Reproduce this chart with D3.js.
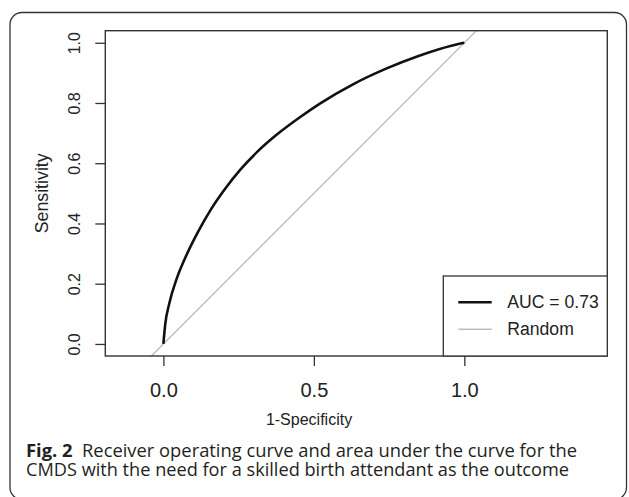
<!DOCTYPE html>
<html><head><meta charset="utf-8">
<script src="https://cdn.jsdelivr.net/npm/d3@7"></script>
<style>
html,body{margin:0;padding:0;background:#fff;}
svg{display:block;}
</style></head>
<body>
<svg id="chart" width="629" height="497"></svg>
<script>
// ---- data ----
const fpr = [0, 0.006, 0.02, 0.044, 0.078, 0.116, 0.155, 0.199, 0.255, 0.31, 0.377, 0.45, 0.52, 0.63, 0.74, 0.85, 0.96, 1];
const tpr = [0, 0.064, 0.136, 0.216, 0.298, 0.374, 0.442, 0.507, 0.578, 0.636, 0.695, 0.750, 0.798, 0.862, 0.914, 0.957, 0.991, 1];
const randomLine = [-0.2, 1.2];
const xTicks = [0, 0.5, 1];
const yTicks = [0, 0.2, 0.4, 0.6, 0.8, 1];
const xTickLabels = ["0.0", "0.5", "1.0"];
const yTickLabels = ["0.0", "0.2", "0.4", "0.6", "0.8", "1.0"];
const legendLabels = ["AUC = 0.73", "Random"];
const xTitle = "1-Specificity";
const yTitle = "Sensitivity";
const captionBold = "Fig. 2";
const captionLines = ["Receiver operating curve and area under the curve for the",
                      "CMDS with the need for a skilled birth attendant as the outcome"];

// ---- layout ----
const svg = d3.select("#chart");
const box = {l: 105.3, r: 607.3, t: 30.7, b: 356};
const x = d3.scaleLinear().domain([-0.193, 1.475]).range([box.l, box.r]);
const y = d3.scaleLinear().domain([-0.04, 1.04]).range([box.b, box.t]);
const axisFont = "'Liberation Sans', Arial, Helvetica, sans-serif";

// outer frame
svg.append("rect").attr("x", 10).attr("y", 12.5).attr("width", 616.5).attr("height", 487)
  .attr("rx", 12).attr("ry", 12).attr("fill", "none").attr("stroke", "#333").attr("stroke-width", 1.3);

// clip
svg.append("defs").append("clipPath").attr("id", "clip")
  .append("rect").attr("x", box.l).attr("y", box.t).attr("width", box.r - box.l).attr("height", box.b - box.t);

// random line
svg.append("path")
  .datum(randomLine)
  .attr("clip-path", "url(#clip)")
  .attr("fill", "none").attr("stroke", "#bdbdbd").attr("stroke-width", 1.4)
  .attr("d", d3.line().x(d => x(d)).y(d => y(d)));

// ROC curve
const rocData = fpr.map((f, i) => ({f, t: tpr[i]}));
svg.append("path")
  .datum(rocData)
  .attr("fill", "none").attr("stroke", "#111").attr("stroke-width", 2.6)
  .attr("d", d3.line().x(d => x(d.f)).y(d => y(d.t)).curve(d3.curveMonotoneX));

// box
svg.append("rect").attr("x", box.l).attr("y", box.t).attr("width", box.r - box.l).attr("height", box.b - box.t)
  .attr("fill", "none").attr("stroke", "#333").attr("stroke-width", 1.4);

// x axis
const gx = svg.append("g").attr("transform", `translate(0,${box.b})`)
  .call(d3.axisBottom(x).tickValues(xTicks).tickSize(10).tickFormat((d, i) => xTickLabels[i]));
gx.select(".domain").remove();
gx.selectAll(".tick line").attr("stroke", "#333").attr("stroke-width", 1.3);
gx.selectAll(".tick text").attr("font-family", axisFont).attr("font-size", 20).attr("fill", "#222")
  .attr("y", 40.5).attr("dy", null);

// y axis
const gy = svg.append("g").attr("transform", `translate(${box.l},0)`)
  .call(d3.axisLeft(y).tickValues(yTicks).tickSize(10).tickFormat((d, i) => yTickLabels[i]));
gy.select(".domain").remove();
gy.selectAll(".tick line").attr("stroke", "#333").attr("stroke-width", 1.3);
gy.selectAll(".tick text").attr("font-family", axisFont).attr("font-size", 16).attr("fill", "#222")
  .attr("x", null).attr("dy", null).attr("text-anchor", "middle")
  .attr("transform", "translate(-25.5,0) rotate(-90)");

// axis titles
svg.append("text").attr("x", 309).attr("y", 425).attr("text-anchor", "middle")
  .attr("font-family", axisFont).attr("font-size", 16).attr("fill", "#222").text(xTitle);
svg.append("text").attr("transform", `translate(47.5,${(box.t + box.b) / 2}) rotate(-90)`)
  .attr("text-anchor", "middle")
  .attr("font-family", axisFont).attr("font-size", 17.8).attr("fill", "#222").text(yTitle);

// legend
const leg = {l: 443.3, t: 276};
svg.append("rect").attr("x", leg.l).attr("y", leg.t).attr("width", box.r - leg.l).attr("height", box.b - leg.t)
  .attr("fill", "#fff").attr("stroke", "#333").attr("stroke-width", 1.3);
const legColors = ["#111", "#bdbdbd"];
const legWidths = [2.6, 1.4];
const legY = d3.scalePoint().domain(legendLabels).range([302.3, 329.3]);
legendLabels.forEach((lab, i) => {
  svg.append("line").attr("x1", 458.3).attr("x2", 491.7).attr("y1", legY(lab)).attr("y2", legY(lab))
    .attr("stroke", legColors[i]).attr("stroke-width", legWidths[i]);
  svg.append("text").attr("x", 507.3).attr("y", legY(lab)).attr("dy", "0.35em")
    .attr("font-family", axisFont).attr("font-size", 17.6).attr("fill", "#222").text(lab);
});

// caption
const capFont = "'Open Sans', 'Noto Sans', sans-serif";
const cap1 = svg.append("text").attr("x", 26).attr("y", 457).attr("font-family", capFont)
  .attr("font-size", 18).attr("fill", "#231f20")
  .attr("textLength", 551).attr("lengthAdjust", "spacingAndGlyphs");
cap1.append("tspan").attr("font-weight", "bold").text(captionBold);
cap1.append("tspan").text("\u00a0\u00a0" + captionLines[0]);
svg.append("text").attr("x", 26).attr("y", 476).attr("font-family", capFont)
  .attr("font-size", 18).attr("fill", "#231f20")
  .attr("textLength", 543).attr("lengthAdjust", "spacingAndGlyphs")
  .text(captionLines[1]);
</script>
</body></html>
